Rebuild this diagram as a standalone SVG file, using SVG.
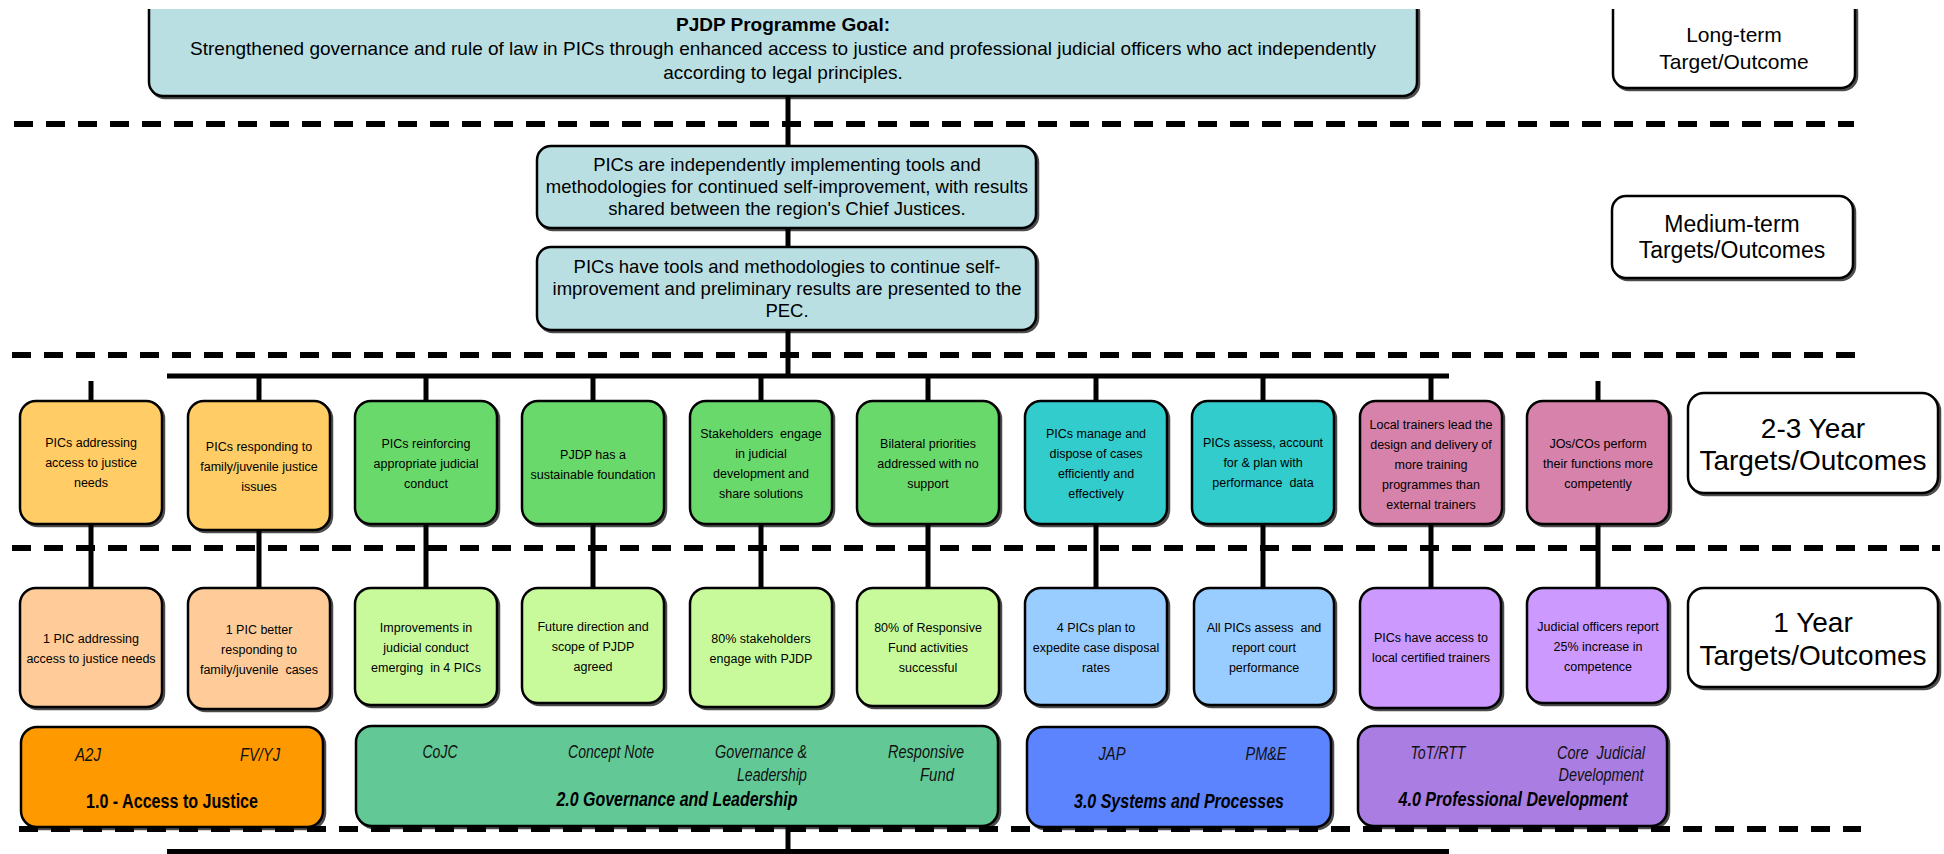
<svg xmlns="http://www.w3.org/2000/svg" width="1944" height="854" viewBox="0 0 1944 854">
<defs>
<filter id="sh" x="-5%" y="-5%" width="110%" height="115%"><feDropShadow dx="2" dy="2" stdDeviation="0.6" flood-color="#000" flood-opacity="0.7"/></filter>
<clipPath id="topclip"><rect x="0" y="9" width="1944" height="845"/></clipPath>
<style>
.b{stroke:#000;stroke-width:2.5;filter:url(#sh)}
.t{font-family:'Liberation Sans',Arial,Helvetica,sans-serif;fill:#000;text-anchor:middle}
.g{font-size:19px}
.m{font-size:18.5px}
.s{font-size:12.5px}
.lb{font-size:28px}
.it{font-size:17.5px;font-style:italic;fill:#111}
.bt{font-size:20px;font-weight:bold}
.bi{font-size:20px;font-weight:bold;font-style:italic}
.c{stroke:#000;stroke-width:5;fill:none}
.d{stroke:#000;stroke-width:6;stroke-dasharray:19 13;fill:none}
.blue{fill:#B9DFE3}
.or{fill:#FFCC66}.gr{fill:#6AD96C}.te{fill:#33CCCC}.pk{fill:#D682AA}
.pe{fill:#FFCC99}.lg{fill:#C8FA9C}.lb2{fill:#99CCFF}.lp{fill:#CC99FF}
.wh{fill:#fff}
</style>
</defs>
<rect x="0" y="0" width="1944" height="854" fill="#fff"/>

<g id="connectors">
<line class="c" x1="788" y1="96" x2="788" y2="146"/>
<line class="c" x1="788" y1="228" x2="788" y2="247"/>
<line class="c" x1="788" y1="330" x2="788" y2="376"/>
<line class="c" x1="167" y1="376" x2="1449" y2="376"/>
<line class="c" x1="91" y1="381" x2="91" y2="401"/>
<line class="c" x1="259" y1="376" x2="259" y2="401"/>
<line class="c" x1="426" y1="376" x2="426" y2="401"/>
<line class="c" x1="593" y1="376" x2="593" y2="401"/>
<line class="c" x1="761" y1="376" x2="761" y2="401"/>
<line class="c" x1="928" y1="376" x2="928" y2="401"/>
<line class="c" x1="1096" y1="376" x2="1096" y2="401"/>
<line class="c" x1="1263" y1="376" x2="1263" y2="401"/>
<line class="c" x1="1431" y1="376" x2="1431" y2="401"/>
<line class="c" x1="1598" y1="381" x2="1598" y2="401"/>
<line class="c" x1="91" y1="524" x2="91" y2="588"/>
<line class="c" x1="259" y1="530" x2="259" y2="588"/>
<line class="c" x1="426" y1="524" x2="426" y2="588"/>
<line class="c" x1="593" y1="524" x2="593" y2="588"/>
<line class="c" x1="761" y1="524" x2="761" y2="588"/>
<line class="c" x1="928" y1="524" x2="928" y2="588"/>
<line class="c" x1="1096" y1="524" x2="1096" y2="588"/>
<line class="c" x1="1263" y1="524" x2="1263" y2="588"/>
<line class="c" x1="1431" y1="524" x2="1431" y2="588"/>
<line class="c" x1="1598" y1="524" x2="1598" y2="588"/>
<line class="c" x1="788" y1="826" x2="788" y2="852"/>
<line class="c" x1="167" y1="851.5" x2="1449" y2="851.5"/>
</g>

<g id="goal" clip-path="url(#topclip)">
<rect class="b blue" x="149" y="-4" width="1268" height="100" rx="14"/>
<text class="t g" x="783" y="31" font-weight="bold">PJDP Programme Goal:</text>
<text class="t g" x="783" y="55">Strengthened governance and rule of law in PICs through enhanced access to justice and professional judicial officers who act independently</text>
<text class="t g" x="783" y="79">according to legal principles.</text>
</g>

<g id="label-longterm" clip-path="url(#topclip)">
<rect class="b wh" x="1613" y="-4" width="242" height="92" rx="14"/>
<text class="t" font-size="21" x="1734" y="42">Long-term</text>
<text class="t" font-size="21" x="1734" y="69">Target/Outcome</text>
</g>

<g id="medium1">
<rect class="b blue" x="537" y="146" width="499" height="82" rx="14"/>
<text class="t m" x="787" y="171">PICs are independently implementing tools and</text>
<text class="t m" x="787" y="193">methodologies for continued self-improvement, with results</text>
<text class="t m" x="787" y="215">shared between the region's Chief Justices.</text>
</g>

<g id="medium2">
<rect class="b blue" x="537" y="247" width="499" height="83" rx="14"/>
<text class="t m" x="787" y="273">PICs have tools and methodologies to continue self-</text>
<text class="t m" x="787" y="295">improvement and preliminary results are presented to the</text>
<text class="t m" x="787" y="317">PEC.</text>
</g>

<g id="label-medium">
<rect class="b wh" x="1612" y="196" width="241" height="82" rx="14"/>
<text class="t" font-size="23" x="1732" y="232">Medium-term</text>
<text class="t" font-size="23" x="1732" y="258">Targets/Outcomes</text>
</g>

<!-- 2-3 year row -->
<g id="y23-a">
<rect class="b or" x="20" y="401" width="142" height="123" rx="16"/>
<text class="t s" x="91" y="447">PICs addressing</text>
<text class="t s" x="91" y="467">access to justice</text>
<text class="t s" x="91" y="487">needs</text>
</g>
<g id="y23-b">
<rect class="b or" x="188" y="401" width="142" height="129" rx="16"/>
<text class="t s" x="259" y="451">PICs responding to</text>
<text class="t s" x="259" y="471">family/juvenile justice</text>
<text class="t s" x="259" y="491">issues</text>
</g>
<g id="y23-c">
<rect class="b gr" x="355" y="401" width="142" height="123" rx="16"/>
<text class="t s" x="426" y="448">PICs reinforcing</text>
<text class="t s" x="426" y="468">appropriate judicial</text>
<text class="t s" x="426" y="488">conduct</text>
</g>
<g id="y23-d">
<rect class="b gr" x="522" y="401" width="142" height="123" rx="16"/>
<text class="t s" x="593" y="459">PJDP has a</text>
<text class="t s" x="593" y="479">sustainable foundation</text>
</g>
<g id="y23-e">
<rect class="b gr" x="690" y="401" width="142" height="123" rx="16"/>
<text class="t s" x="761" y="438">Stakeholders&#160; engage</text>
<text class="t s" x="761" y="458">in judicial</text>
<text class="t s" x="761" y="478">development and</text>
<text class="t s" x="761" y="498">share solutions</text>
</g>
<g id="y23-f">
<rect class="b gr" x="857" y="401" width="142" height="123" rx="16"/>
<text class="t s" x="928" y="448">Bilateral priorities</text>
<text class="t s" x="928" y="468">addressed with no</text>
<text class="t s" x="928" y="488">support</text>
</g>
<g id="y23-g">
<rect class="b te" x="1025" y="401" width="142" height="123" rx="16"/>
<text class="t s" x="1096" y="438">PICs manage and</text>
<text class="t s" x="1096" y="458">dispose of cases</text>
<text class="t s" x="1096" y="478">efficiently and</text>
<text class="t s" x="1096" y="498">effectively</text>
</g>
<g id="y23-h">
<rect class="b te" x="1192" y="401" width="142" height="123" rx="16"/>
<text class="t s" x="1263" y="447">PICs assess, account</text>
<text class="t s" x="1263" y="467">for &amp; plan with</text>
<text class="t s" x="1263" y="487">performance&#160; data</text>
</g>
<g id="y23-i">
<rect class="b pk" x="1360" y="401" width="142" height="123" rx="16"/>
<text class="t s" x="1431" y="429">Local trainers lead the</text>
<text class="t s" x="1431" y="449">design and delivery of</text>
<text class="t s" x="1431" y="469">more training</text>
<text class="t s" x="1431" y="489">programmes than</text>
<text class="t s" x="1431" y="509">external trainers</text>
</g>
<g id="y23-j">
<rect class="b pk" x="1527" y="401" width="142" height="123" rx="16"/>
<text class="t s" x="1598" y="448">JOs/COs perform</text>
<text class="t s" x="1598" y="468">their functions more</text>
<text class="t s" x="1598" y="488">competently</text>
</g>
<g id="label-23">
<rect class="b wh" x="1688" y="393" width="250" height="100" rx="16"/>
<text class="t lb" x="1813" y="438">2-3 Year</text>
<text class="t lb" x="1813" y="470">Targets/Outcomes</text>
</g>

<!-- 1 year row -->
<g id="y1-a">
<rect class="b pe" x="20" y="588" width="142" height="119" rx="16"/>
<text class="t s" x="91" y="643">1 PIC addressing</text>
<text class="t s" x="91" y="663">access to justice needs</text>
</g>
<g id="y1-b">
<rect class="b pe" x="188" y="588" width="142" height="121" rx="16"/>
<text class="t s" x="259" y="634">1 PIC better</text>
<text class="t s" x="259" y="654">responding to</text>
<text class="t s" x="259" y="674">family/juvenile&#160; cases</text>
</g>
<g id="y1-c">
<rect class="b lg" x="355" y="588" width="142" height="117" rx="16"/>
<text class="t s" x="426" y="632">Improvements in</text>
<text class="t s" x="426" y="652">judicial conduct</text>
<text class="t s" x="426" y="672">emerging&#160; in 4 PICs</text>
</g>
<g id="y1-d">
<rect class="b lg" x="522" y="588" width="142" height="115" rx="16"/>
<text class="t s" x="593" y="631">Future direction and</text>
<text class="t s" x="593" y="651">scope of PJDP</text>
<text class="t s" x="593" y="671">agreed</text>
</g>
<g id="y1-e">
<rect class="b lg" x="690" y="588" width="142" height="119" rx="16"/>
<text class="t s" x="761" y="643">80% stakeholders</text>
<text class="t s" x="761" y="663">engage with PJDP</text>
</g>
<g id="y1-f">
<rect class="b lg" x="857" y="588" width="142" height="118" rx="16"/>
<text class="t s" x="928" y="632">80% of Responsive</text>
<text class="t s" x="928" y="652">Fund activities</text>
<text class="t s" x="928" y="672">successful</text>
</g>
<g id="y1-g">
<rect class="b lb2" x="1025" y="588" width="142" height="117" rx="16"/>
<text class="t s" x="1096" y="632">4 PICs plan to</text>
<text class="t s" x="1096" y="652">expedite case disposal</text>
<text class="t s" x="1096" y="672">rates</text>
</g>
<g id="y1-h">
<rect class="b lb2" x="1194" y="588" width="140" height="117" rx="16"/>
<text class="t s" x="1264" y="632">All PICs assess&#160; and</text>
<text class="t s" x="1264" y="652">report court</text>
<text class="t s" x="1264" y="672">performance</text>
</g>
<g id="y1-i">
<rect class="b lp" x="1360" y="588" width="141" height="120" rx="16"/>
<text class="t s" x="1431" y="642">PICs have access to</text>
<text class="t s" x="1431" y="662">local certified trainers</text>
</g>
<g id="y1-j">
<rect class="b lp" x="1527" y="588" width="141" height="115" rx="16"/>
<text class="t s" x="1598" y="631">Judicial officers report</text>
<text class="t s" x="1598" y="651">25% increase in</text>
<text class="t s" x="1598" y="671">competence</text>
</g>
<g id="label-1">
<rect class="b wh" x="1688" y="588" width="250" height="99" rx="16"/>
<text class="t lb" x="1813" y="632">1 Year</text>
<text class="t lb" x="1813" y="665">Targets/Outcomes</text>
</g>

<!-- programme areas -->
<g id="prog-1">
<rect class="b" fill="#FF9900" x="21" y="727" width="302" height="100" rx="16"/>
<text class="t it" x="88" y="761" textLength="26" lengthAdjust="spacingAndGlyphs">A2J</text>
<text class="t it" x="260" y="761" textLength="40" lengthAdjust="spacingAndGlyphs">FV/YJ</text>
<text class="t bt" x="172" y="808" textLength="172" lengthAdjust="spacingAndGlyphs">1.0 - Access to Justice</text>
</g>
<g id="prog-2">
<rect class="b" fill="#62C996" x="356" y="726" width="642" height="100" rx="16"/>
<text class="t it" x="440" y="758" textLength="35" lengthAdjust="spacingAndGlyphs">CoJC</text>
<text class="t it" x="611" y="758" textLength="86" lengthAdjust="spacingAndGlyphs">Concept Note</text>
<text class="t it" x="761" y="758" textLength="92" lengthAdjust="spacingAndGlyphs">Governance &amp;</text>
<text class="t it" x="772" y="781" textLength="70" lengthAdjust="spacingAndGlyphs">Leadership</text>
<text class="t it" x="926" y="758" textLength="76" lengthAdjust="spacingAndGlyphs">Responsive</text>
<text class="t it" x="937" y="781" textLength="34" lengthAdjust="spacingAndGlyphs">Fund</text>
<text class="t bi" x="677" y="806" textLength="241" lengthAdjust="spacingAndGlyphs">2.0 Governance and Leadership</text>
</g>
<g id="prog-3">
<rect class="b" fill="#5B84FF" x="1027" y="727" width="304" height="100" rx="16"/>
<text class="t it" x="1112" y="760" textLength="27" lengthAdjust="spacingAndGlyphs">JAP</text>
<text class="t it" x="1266" y="760" textLength="41" lengthAdjust="spacingAndGlyphs">PM&amp;E</text>
<text class="t bi" x="1179" y="808" textLength="210" lengthAdjust="spacingAndGlyphs">3.0 Systems and Processes</text>
</g>
<g id="prog-4">
<rect class="b" fill="#A97DE2" x="1358" y="726" width="309" height="100" rx="16"/>
<text class="t it" x="1438" y="759" textLength="55" lengthAdjust="spacingAndGlyphs">ToT/RTT</text>
<text class="t it" x="1601" y="759" textLength="88" lengthAdjust="spacingAndGlyphs">Core&#160; Judicial</text>
<text class="t it" x="1601" y="781" textLength="85" lengthAdjust="spacingAndGlyphs">Development</text>
<text class="t bi" x="1513" y="806" textLength="229" lengthAdjust="spacingAndGlyphs">4.0 Professional Development</text>
</g>

<g id="dividers">
<line class="d" x1="14" y1="124" x2="1854" y2="124"/>
<line class="d" x1="12" y1="355" x2="1861" y2="355"/>
<line class="d" x1="12" y1="548" x2="1940" y2="548"/>
<line class="d" x1="19" y1="829" x2="1861" y2="829"/>
</g>
</svg>
